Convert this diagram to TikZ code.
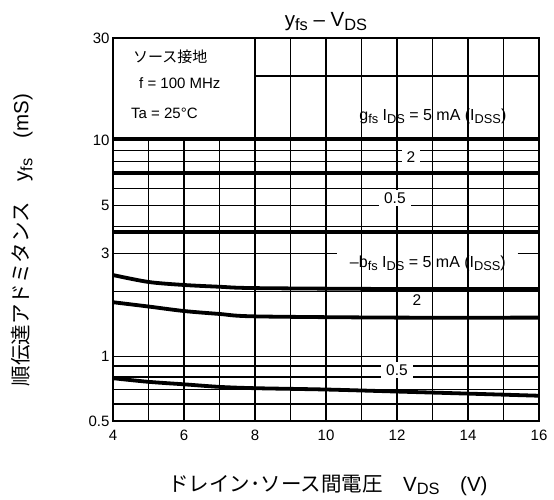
\documentclass[tikz,border=0pt]{standalone}
\usepackage{fontspec}
\setmainfont{Liberation Sans}
\newfontfamily\jp{Noto Sans CJK JP}
\usetikzlibrary{positioning}
\newcommand{\sub}[1]{\raisebox{-0.35ex}{\scalebox{0.8}{#1}}}

\begin{document}
\begin{tikzpicture}[x=1pt,y=1pt,
  declare function={ly(\v)=log10(\v)+0.30103;},
  gridline/.style={line width=1.2pt},
  frameline/.style={line width=2.2pt},
  curve/.style={line width=3.8pt,line join=round},
  ticklabel/.style={font=\fontsize{15}{18}\selectfont},
  curvelabel/.style={inner sep=1pt,font=\fontsize{16}{19}\selectfont},
  tag/.style={fill=white,inner xsep=5pt,inner ysep=2.5pt,font=\fontsize{15.5}{18}\selectfont},
  note/.style={anchor=west,inner sep=0pt,font=\fontsize{15}{18}\selectfont},
  axislabel/.style={font=\fontsize{20.5}{24}\selectfont}]
  \useasboundingbox (0,0) rectangle (554,500);

  \begin{scope}[shift={(113,79)},x=35.5pt,y=215.4pt]
    % grid
    \foreach \x in {1,2,3} \draw[gridline] (\x,0) -- (\x,{ly(10)});
    \foreach \x in {4,...,11} \draw[gridline] (\x,0) -- (\x,{ly(30)});
    \foreach \v in {0.6,0.7,0.8,0.9,1,2,4,5,6,7,8,9,10}
      \draw[gridline] (0,{ly(\v)}) -- (12,{ly(\v)});
    \draw[gridline] (0,{ly(3)}) -- (6.3,{ly(3)}) (11.4,{ly(3)}) -- (12,{ly(3)});
    \draw[gridline] (4,{ly(20)}) -- (12,{ly(20)});

    % curve tags
    \node[tag] (g2)  at (8.39,{ly(8.4)})  {2};
    \node[tag] (g05) at (7.94,{ly(5.42)}) {0.5};
    \node[tag] (b2)  at (8.56,{ly(1.82)}) {2};
    \node[tag] (b05) at (8.0,{ly(0.863)}) {0.5};
    \node[curvelabel] (gfs) at (9.01,{ly(13)})
      {g\sub{fs} I\sub{DS} = 5 mA (I\sub{DSS})};
    \node[curvelabel] (bfs) at (8.87,{ly(2.7)})
      {–b\sub{fs} I\sub{DS} = 5 mA (I\sub{DSS})};

    % gfs
    \draw[curve] (0,{ly(10.2)}) -- (12,{ly(10.2)});
    \draw[curve] (0,{ly(7.12)}) -- (12,{ly(7.12)});
    \draw[curve] (0,{ly(3.77)}) -- (12,{ly(3.77)});
    % -bfs
    \draw[curve] plot[smooth] coordinates {(0,{ly(2.38)}) (1,{ly(2.21)})
      (2,{ly(2.14)}) (3,{ly(2.10)}) (4,{ly(2.07)}) (8,{ly(2.05)}) (12,{ly(2.05)})};
    \draw[curve] plot[smooth] coordinates {(0,{ly(1.78)}) (1,{ly(1.70)})
      (2,{ly(1.62)}) (3,{ly(1.57)}) (4,{ly(1.53)}) (8,{ly(1.51)}) (12,{ly(1.51)})};
    \draw[curve] plot[smooth] coordinates {(0,{ly(0.79)}) (1,{ly(0.76)})
      (2,{ly(0.74)}) (3,{ly(0.72)}) (4,{ly(0.71)}) (6,{ly(0.70)})
      (8,{ly(0.685)}) (10,{ly(0.67)}) (12,{ly(0.655)})};

    \draw[frameline] (0,0) rectangle (12,{ly(30)});

    % ticks
    \foreach \v in {30,10,5,3,1,0.5}
      \node[ticklabel,anchor=east] (y\v) at (0,{ly(\v)}) {\v};
    \foreach \t in {4,6,...,16}
      \node[ticklabel] (x\t) at ({\t-4},-0.065) {\t};
  \end{scope}

  \node[note] (gnd)  at (133,443) {\jp ソース接地};
  \node[note] (freq) at (139,417) {f = 100 MHz};
  \node[note] (temp) at (131,387) {Ta = 25°C};

  \node[axislabel] (title) at (326,478) {y\sub{fs} – V\sub{DS}};
  \node[axislabel,rotate=90] (ylab) at (22,260)
    {{\jp 順伝達アドミタンス　}y\sub{fs}{\jp 　}(mS)};
  \node[axislabel] (xlab) at (328,15)
    {{\jp ドレイン･ソース間電圧　}V\sub{DS}{\jp 　}(V)};
\end{tikzpicture}
\end{document}
